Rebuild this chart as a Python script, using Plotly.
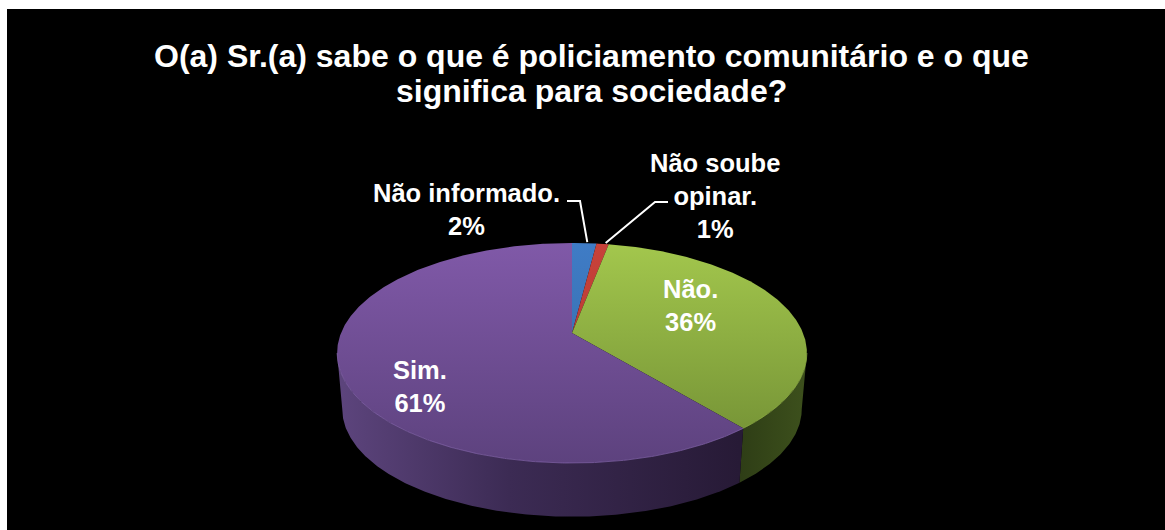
import numpy as np
import plotly.graph_objects as go

TITLE_LINES = ["O(a) Sr.(a) sabe o que é policiamento comunitário e o que",
               "significa para sociedade?"]
categories = ["Não informado.", "Não soube<br>opinar.", "Não.", "Sim."]
values = [2, 1, 36, 61]

# Colours per slice: top-surface gradient ends, then wall gradient stops
top_light = ["#3f7cc6", "#c8423a", "#a3c74d", "#8059a8"]
top_dark = ["#34689f", "#a93530", "#708d33", "#5d427e"]
wall_colors = [
    ("#2a4a70", "#2a4a70", "#2a4a70"),
    ("#6e2522", "#6e2522", "#6e2522"),
    ("#2e3d16", "#344518", "#3c4f1c"),
    ("#5c447c", "#3c2b54", "#271a36"),
]

# Projection of the tilted disc onto the page, in pixels
CX, CY = 572, 333
RX, RY = 231, 106.4
PERSP = 0.1818
BOTTOM_SCALE = 0.978
DEPTH = 56.5
RIGHT_TANGENT = np.degrees(np.arccos(-PERSP))
LEFT_TANGENT = 360 - RIGHT_TANGENT


def rim(deg, scale=1.0, drop=0.0):
    t = np.radians(deg)
    w = 1 + PERSP * np.cos(t)
    return (CX + scale * RX * np.sin(t) / w,
            CY - scale * RY * np.cos(t) / w + drop)


def arc(a, b):
    return np.linspace(a, b, max(int(abs(b - a) * 2), 2) + 1)


fig = go.Figure()
edges = np.cumsum([0] + values) / sum(values) * 360

# Outer walls, limited to the front of the cylinder
for i in range(len(values)):
    a, b = max(edges[i], RIGHT_TANGENT), min(edges[i + 1], LEFT_TANGENT)
    if b <= a:
        continue
    xt, yt = rim(arc(a, b))
    xb, yb = rim(arc(a, b), BOTTOM_SCALE, DEPTH)
    left, mid, right = wall_colors[i]
    fig.add_trace(go.Scatter(
        x=np.r_[xt, xb[::-1]], y=np.r_[yt, yb[::-1]],
        mode="lines", line=dict(width=0), fill="toself",
        fillgradient=dict(type="horizontal", start=float(xb.min()), stop=float(xb.max()),
                          colorscale=[[0, left], [0.42, mid], [1, right]]),
    ))

# Top surface slices
for i in range(len(values)):
    xs, ys = rim(arc(edges[i], edges[i + 1]))
    fig.add_trace(go.Scatter(
        x=np.r_[CX, xs, CX], y=np.r_[CY, ys, CY],
        mode="lines", line=dict(width=0), fill="toself",
        fillgradient=dict(type="vertical", start=CY - RY / (1 + PERSP), stop=CY + RY / (1 - PERSP),
                          colorscale=[[0, top_light[i]], [1, top_dark[i]]]),
    ))

# Bevel highlight along the front rim
for i, color in ((2, "#8faf45"), (3, "#8566ad")):
    a, b = max(edges[i], RIGHT_TANGENT), min(edges[i + 1], LEFT_TANGENT)
    xs, ys = rim(arc(a, b))
    fig.add_trace(go.Scatter(x=xs, y=ys, mode="lines", line=dict(color=color, width=1), opacity=0.7))

# Leader lines for the two thin slices
leader_starts = {0: (567, 201, 580), 1: (668, 202, 655)}
for i, (x0, y0, x1) in leader_starts.items():
    tx, ty = rim((edges[i] + edges[i + 1]) / 2)
    fig.add_trace(go.Scatter(x=[x0, x1, float(tx) + 3], y=[y0, y0, float(ty) - 1], mode="lines",
                             line=dict(color="#ffffff", width=2)))

label_pos = [(466, 209), (715, 196), (690, 305), (420, 386)]
for name, val, (lx, ly) in zip(categories, values, label_pos):
    fig.add_annotation(x=lx, y=ly, text=f"<b>{name}<br>{val}%</b>", showarrow=False,
                       font=dict(family="Liberation Sans", size=25.5, color="#ffffff"),
                       xanchor="center", yanchor="middle", align="center")

# The heading is tighter than the default line height, so each line is placed on its own
for line, ty in zip(TITLE_LINES, (56, 91)):
    fig.add_annotation(x=591, y=ty, text=f"<b>{line}</b>", showarrow=False,
                       font=dict(family="Liberation Sans", size=32, color="#ffffff"),
                       xanchor="center", yanchor="middle")

fig.update_layout(
    width=1165, height=530, showlegend=False, hovermode=False,
    margin=dict(l=7, r=0, t=9, b=0),
    paper_bgcolor="#ffffff", plot_bgcolor="#000000",
    xaxis=dict(range=[7, 1165], visible=False, fixedrange=True),
    yaxis=dict(range=[530, 9], visible=False, fixedrange=True),
)
fig.write_html("out.html", config={"displayModeBar": False})
